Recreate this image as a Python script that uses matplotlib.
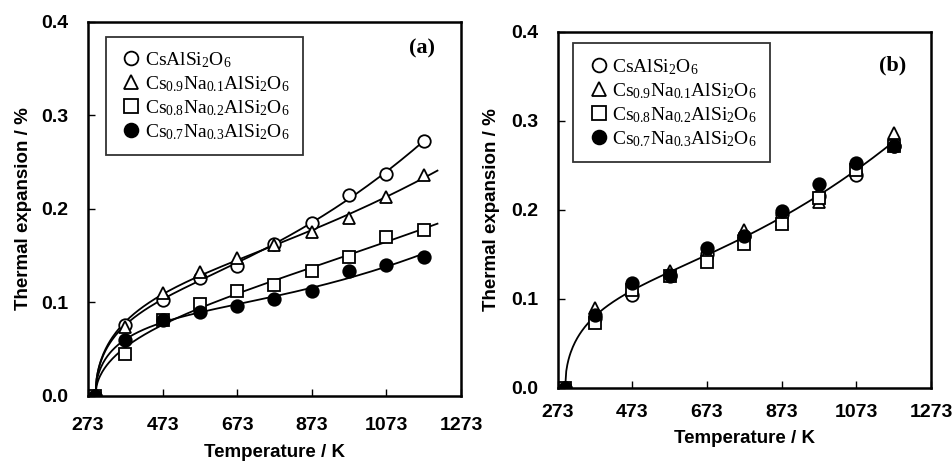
import numpy as np
import matplotlib
matplotlib.use("Agg")
import matplotlib.pyplot as plt

plt.rcParams["mathtext.fontset"] = "custom"
plt.rcParams["mathtext.rm"] = "Liberation Serif"
plt.rcParams["mathtext.it"] = "Liberation Serif:italic"

# measurement temperatures (K)
temps = [293, 373, 473, 573, 673, 773, 873, 973, 1073, 1173]

sample_labels = [
    r"CsAlSi$_2$O$_6$",
    r"Cs$_{0.9}$Na$_{0.1}$AlSi$_2$O$_6$",
    r"Cs$_{0.8}$Na$_{0.2}$AlSi$_2$O$_6$",
    r"Cs$_{0.7}$Na$_{0.3}$AlSi$_2$O$_6$",
]

# (a) thermal expansion, %
a_cs = [0.0, 0.076, 0.103, 0.126, 0.139, 0.163, 0.185, 0.215, 0.237, 0.273]
a_na01 = [0.0, 0.074, 0.110, 0.133, 0.148, 0.161, 0.175, 0.190, 0.213, 0.236]
a_na02 = [0.0, 0.045, 0.081, 0.098, 0.112, 0.119, 0.134, 0.149, 0.170, 0.178]
a_na03 = [0.0, 0.060, 0.081, 0.090, 0.096, 0.104, 0.112, 0.134, 0.140, 0.149]
a_fit_end = [1180, 1210, 1210, 1175]

# (b) thermal expansion, %
b_cs = [0.0, 0.078, 0.104, 0.125, 0.150, 0.170, 0.195, 0.215, 0.239, 0.272]
b_na01 = [0.0, 0.089, 0.113, 0.131, 0.151, 0.177, 0.187, 0.209, 0.248, 0.286]
b_na02 = [0.0, 0.073, 0.110, 0.126, 0.141, 0.161, 0.184, 0.213, 0.245, 0.272]
b_na03 = [0.0, 0.082, 0.118, 0.127, 0.157, 0.170, 0.199, 0.229, 0.252, 0.272]
b_fit_end = 1173

markers = [
    dict(marker="o", mfc="white"),
    dict(marker="^", mfc="white"),
    dict(marker="s", mfc="white"),
    dict(marker="o", mfc="black"),
]


def fit_curve(t, y, t_end):
    t = np.asarray(t, dtype=float)
    y = np.asarray(y, dtype=float)
    dt = t - t[0]
    basis = np.column_stack([np.sqrt(dt), dt, dt ** 2])
    coef, *_ = np.linalg.lstsq(basis, y, rcond=None)
    tt = np.linspace(t[0], t_end, 300)
    d = tt - t[0]
    return tt, coef[0] * np.sqrt(d) + coef[1] * d + coef[2] * d ** 2


def style_axes(ax, xpad, xlabelpad, ylabelpad):
    ax.set_xlim(273, 1273)
    ax.set_ylim(0, 0.4)
    ax.set_xticks(np.arange(273, 1274, 200))
    ax.set_yticks(np.arange(0, 0.41, 0.1))
    ax.yaxis.set_major_formatter(plt.FormatStrFormatter("%.1f"))
    ax.tick_params(direction="in", length=5, width=1, labelsize=14)
    ax.tick_params(axis="x", pad=xpad)
    ax.tick_params(axis="y", pad=14)
    for lab in ax.get_xticklabels() + ax.get_yticklabels():
        lab.set_fontfamily("Liberation Sans")
        lab.set_fontweight("bold")
    for sp in ax.spines.values():
        sp.set_linewidth(1.8)
    ax.set_xlabel("Temperature / K", fontsize=13.5, fontweight="bold",
                  family="Liberation Sans", labelpad=xlabelpad)
    ax.set_ylabel("Thermal expansion / %", fontsize=13.5, fontweight="bold",
                  family="Liberation Sans", labelpad=ylabelpad)


def add_legend(ax, anchor):
    leg = ax.legend(loc="upper left", bbox_to_anchor=anchor, borderaxespad=0,
                    frameon=True, fancybox=False, edgecolor="black",
                    prop={"family": "Liberation Serif", "size": 14},
                    handletextpad=0.1, handlelength=1.2, labelspacing=0.22,
                    borderpad=0.7, markerscale=1.1)
    leg.get_frame().set_linewidth(1.3)


fig = plt.figure(figsize=(9.52, 4.62), dpi=100)
ax_a = fig.add_axes([0.0924, 0.1429, 0.3918, 0.8095])
ax_b = fig.add_axes([0.5858, 0.1608, 0.3922, 0.7706])

a_series = [a_cs, a_na01, a_na02, a_na03]
for vals, end in zip(a_series, a_fit_end):
    tt, yy = fit_curve(temps, vals, end)
    ax_a.plot(tt, yy, color="black", lw=1.3, zorder=2)
for vals, lab, mk in zip(a_series, sample_labels, markers):
    ax_a.plot(temps, vals, ls="none", mec="black", mew=1.3, ms=9,
              label=lab, zorder=3, **mk)

b_series = [b_cs, b_na01, b_na02, b_na03]
b_all_t = np.concatenate([temps] * 4)
b_all_y = np.concatenate(b_series)
order = np.argsort(b_all_t, kind="stable")
tt, yy = fit_curve(b_all_t[order], b_all_y[order], b_fit_end)
ax_b.plot(tt, yy, color="black", lw=1.3, zorder=2)
for vals, lab, mk in zip(b_series, sample_labels, markers):
    ax_b.plot(temps, vals, ls="none", mec="black", mew=1.3, ms=9,
              label=lab, zorder=3, **mk)

style_axes(ax_a, xpad=15, xlabelpad=7.5, ylabelpad=7)
style_axes(ax_b, xpad=12, xlabelpad=6, ylabelpad=8)

add_legend(ax_a, (0.0475, 0.961))
add_legend(ax_b, (0.042, 0.967))

ax_a.text(0.895, 0.93, "(a)", transform=ax_a.transAxes, ha="center",
          va="center", fontsize=16, fontweight="bold", family="Liberation Serif")
ax_b.text(0.896, 0.904, "(b)", transform=ax_b.transAxes, ha="center",
          va="center", fontsize=16, fontweight="bold", family="Liberation Serif")

fig.savefig("out.png", dpi=100)
